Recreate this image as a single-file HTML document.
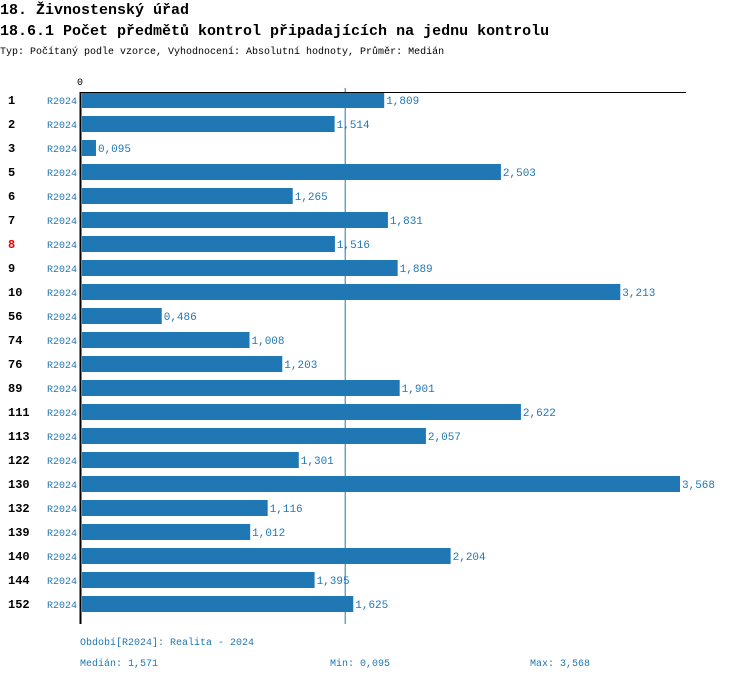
<!DOCTYPE html>
<html><head><meta charset="utf-8"><style>
body{margin:0;background:#fff;width:750px;height:680px;overflow:hidden;font-family:"Liberation Mono",monospace}
svg{position:absolute;left:0;top:0}
</style></head><body>
<svg width="750" height="680">
<text x="0" y="14" font-size="15" font-weight="bold" font-family="Liberation Mono">18. Živnostenský úřad</text>
<text x="0" y="35" font-size="15" font-weight="bold" font-family="Liberation Mono">18.6.1 Počet předmětů kontrol připadajících na jednu kontrolu</text>
<text x="0" y="54" font-size="10" font-family="Liberation Mono">Typ: Počítaný podle vzorce, Vyhodnocení: Absolutní hodnoty, Průměr: Medián</text>
<g id="plot"></g>
<text x="80" y="645" font-size="10" fill="#1f77b4" font-family="Liberation Mono">Období[R2024]: Realita - 2024</text>
<text x="80" y="666" font-size="10" fill="#1f77b4" font-family="Liberation Mono">Medián: 1,571</text>
<text x="330" y="666" font-size="10" fill="#1f77b4" font-family="Liberation Mono">Min: 0,095</text>
<text x="530" y="666" font-size="10" fill="#1f77b4" font-family="Liberation Mono">Max: 3,568</text>
</svg>
<script>
const categories=["1","2","3","5","6","7","8","9","10","56","74","76","89","111","113","122","130","132","139","140","144","152"];
const values=[1.809,1.514,0.095,2.503,1.265,1.831,1.516,1.889,3.213,0.486,1.008,1.203,1.901,2.622,2.057,1.301,3.568,1.116,1.012,2.204,1.395,1.625];
const median=1.571;
const NS="http://www.w3.org/2000/svg";
const g=document.getElementById('plot');
const x0=81,scale=600/3.568,top0=92,step=24;
const xs=v=>x0+v*scale;
function mk(t,a){const e=document.createElementNS(NS,t);for(const k in a)e.setAttribute(k,a[k]);g.appendChild(e);return e;}
const bottom=top0+categories.length*step+4;
let e;
e=mk('line',{x1:xs(median),x2:xs(median),y1:88,y2:bottom,stroke:'#1f77b4','stroke-width':1});


categories.forEach((c,i)=>{
  const y=top0+i*step;
  let r=mk('rect',{x:x0+1,y:y,width:xs(values[i])-x0-2,height:16,fill:'#1f77b4'});
  
  
  let t=mk('text',{x:8,y:y+12,'font-size':12,'font-weight':'bold',fill:c==='8'?'#e00':'#000','font-family':'Liberation Mono'});t.textContent=c;
  
  
  let p=mk('text',{x:47,y:y+12,'font-size':10,fill:'#1f77b4','font-family':'Liberation Mono'});p.textContent='R2024';
  
  
  let v=mk('text',{x:xs(values[i])+1,y:y+12,'font-size':11,fill:'#1f77b4','font-family':'Liberation Mono'});v.textContent=values[i].toFixed(3).replace('.',',');
  
  
});
e=mk('line',{x1:80,x2:686,y1:92.5,y2:92.5,stroke:'#000','stroke-width':1});


e=mk('line',{x1:80.5,x2:80.5,y1:92,y2:bottom,stroke:'#000','stroke-width':2});


e=mk('text',{x:77,y:85,'font-size':10,'font-family':'Liberation Mono'});e.textContent='0';


</script>
</body></html>
